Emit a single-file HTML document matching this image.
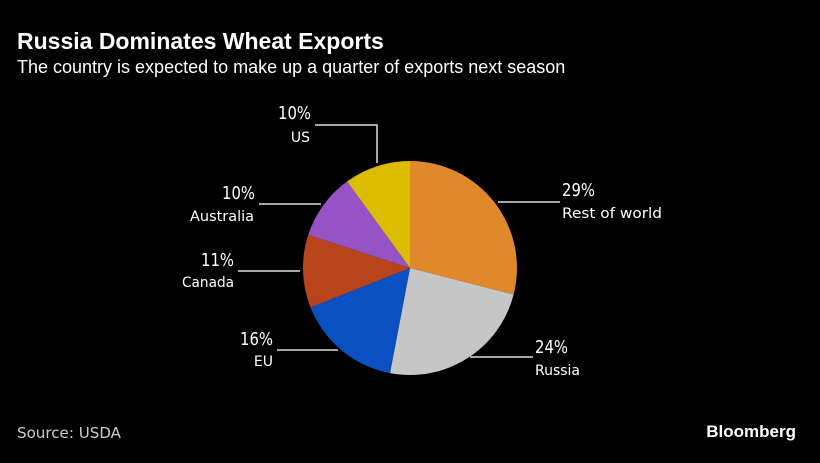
<!DOCTYPE html>
<html><head><meta charset="utf-8"><style>
body{margin:0;background:#000;width:820px;height:458px;overflow:hidden;font-family:"Liberation Sans",sans-serif}
</style></head><body>
<svg width="820" height="458" xmlns="http://www.w3.org/2000/svg">
<rect width="820" height="458" fill="#000"/>
<text x="17" y="49" fill="#fff" font-size="23" font-weight="bold" font-family="Liberation Sans, sans-serif">Russia Dominates Wheat Exports</text>
<text x="17" y="73" fill="#fff" font-size="18" font-family="Liberation Sans, sans-serif">The country is expected to make up a quarter of exports next season</text>
<g>
<path d="M410,268 L410,161 A107,107 0 0 1 513.6,294.6 Z" fill="#e0892a"/>
<path d="M410,268 L513.6,294.6 A107,107 0 0 1 390,373.1 Z" fill="#c6c6c6"/>
<path d="M410,268 L390,373.1 A107,107 0 0 1 310.5,307.4 Z" fill="#0a50c2"/>
<path d="M410,268 L310.5,307.4 A107,107 0 0 1 308.2,234.9 Z" fill="#b9441c"/>
<path d="M410,268 L308.2,234.9 A107,107 0 0 1 347.1,181.4 Z" fill="#9653c6"/>
<path d="M410,268 L347.1,181.4 A107,107 0 0 1 410,161 Z" fill="#dcbc00"/>
</g>
<g stroke="#ddd" stroke-width="1.5" fill="none">
<path d="M315,125 H377 V163"/>
<path d="M498,202 H560"/>
<path d="M259,204 H321"/>
<path d="M238,271 H300"/>
<path d="M277,350 H338"/>
<path d="M470,357 H533"/>
</g>
<g fill="#fff" font-family="DejaVu Sans, sans-serif">
<g font-size="18" text-anchor="end">
<text x="311" y="119" textLength="33" lengthAdjust="spacingAndGlyphs">10%</text>
<text x="255" y="199" textLength="33" lengthAdjust="spacingAndGlyphs">10%</text>
<text x="234" y="266" textLength="33" lengthAdjust="spacingAndGlyphs">11%</text>
<text x="273" y="345" textLength="33" lengthAdjust="spacingAndGlyphs">16%</text>
</g>
<g font-size="14" text-anchor="end">
<text x="310" y="142">US</text>
<text x="254" y="221" textLength="64" lengthAdjust="spacingAndGlyphs">Australia</text>
<text x="234" y="287" textLength="52" lengthAdjust="spacingAndGlyphs">Canada</text>
<text x="273" y="366">EU</text>
</g>
<text x="562" y="196" font-size="18" textLength="33" lengthAdjust="spacingAndGlyphs">29%</text>
<text x="562" y="218" font-size="14" textLength="100" lengthAdjust="spacingAndGlyphs">Rest of world</text>
<text x="535" y="353" font-size="18" textLength="33" lengthAdjust="spacingAndGlyphs">24%</text>
<text x="535" y="375" font-size="14" textLength="45" lengthAdjust="spacingAndGlyphs">Russia</text>
<text x="17" y="438" font-size="15" fill="#ccc" textLength="104" lengthAdjust="spacingAndGlyphs">Source: USDA</text>
</g>
<text x="796" y="437" fill="#fff" font-size="17" font-weight="bold" text-anchor="end" font-family="Liberation Sans, sans-serif">Bloomberg</text>
</svg>
</body></html>
